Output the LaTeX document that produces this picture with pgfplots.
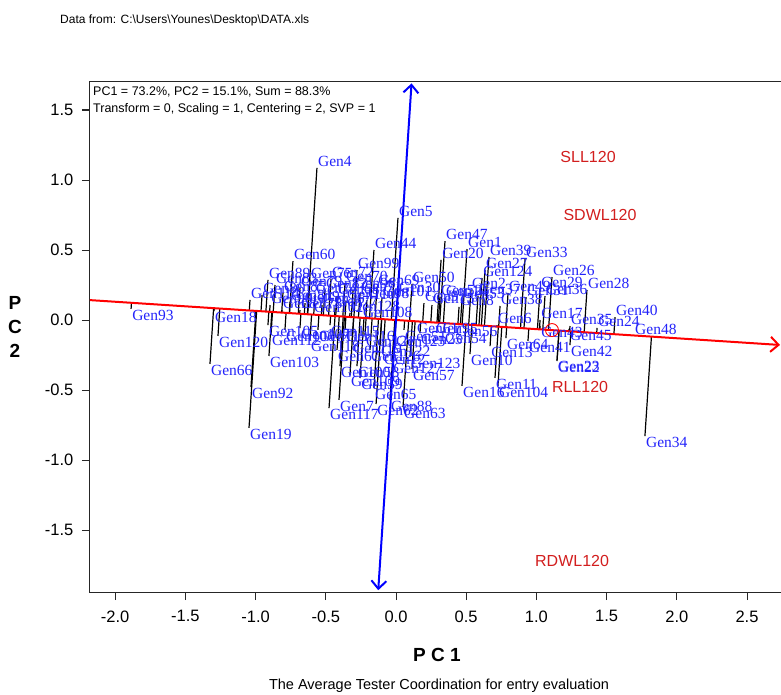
\documentclass[border=0pt]{standalone}
\usepackage{fontspec}
\setmainfont{Liberation Sans}
\newfontfamily\genfont{Liberation Serif}
\usepackage{pgfplots}
\usepackage{pgfplotstable}
\pgfplotsset{compat=1.18}
\usetikzlibrary{arrows.meta}
\definecolor{genblue}{RGB}{35,35,250}
\definecolor{envred}{RGB}{210,30,30}

% genotypes above the ATC abscissa (label sits above the point)
\pgfplotstableread{
x y label
-0.563 1.086 Gen4
0.014 0.729 Gen5
-0.157 0.500 Gen44
-0.734 0.421 Gen60
0.349 0.564 Gen47
0.321 0.429 Gen20
0.506 0.507 Gen1
0.662 0.450 Gen39
0.919 0.436 Gen33
0.634 0.357 Gen27
0.613 0.300 Gen124
1.111 0.307 Gen26
1.026 0.221 Gen29
1.360 0.214 Gen28
1.560 0.021 Gen40
1.026 0.000 Gen17
1.239 -0.043 Gen35
1.432 -0.057 Gen24
1.695 -0.110 Gen48
0.741 0.100 Gen38
0.584 0.171 Gen37
0.926 0.164 Gen31
1.061 0.171 Gen36
0.534 0.214 Gen2
0.014 0.186 Gen30
0.114 0.257 Gen50
-0.135 0.236 Gen69
-0.278 0.357 Gen99
-0.463 0.293 Gen72
-0.912 0.286 Gen89
-1.040 0.143 Gen114
-0.356 0.136 Gen110
-0.328 0.050 Gen128
0.719 -0.036 Gen6
0.256 0.107 Gen15
0.349 0.157 Gen14
0.449 0.093 Gen8
0.798 0.193 Gen49
-0.862 0.250 Gen83
-0.805 0.193 Gen85
-0.954 0.179 Gen86
-0.684 0.229 Gen79
-0.613 0.286 Gen75
-0.577 0.179 Gen74
-0.755 0.129 Gen81
-0.506 0.214 Gen82
-0.363 0.264 Gen70
-0.256 0.193 Gen71
-0.420 0.171 Gen68
-0.897 0.107 Gen90
-0.648 0.121 Gen91
-0.527 0.107 Gen76
-0.434 0.086 Gen77
-0.684 0.071 Gen78
-0.812 0.071 Gen87
-0.306 0.214 Gen96
-0.207 0.143 Gen98
-0.100 0.157 Gen101
-0.591 0.043 Gen102
0.199 0.121 Gen9
0.313 0.164 Gen52
0.470 0.143 Gen53
-0.242 0.010 Gen108
}\genup

% genotypes below the ATC abscissa (label hangs below the point)
\pgfplotstableread{
x y label
-1.887 0.079 Gen93
-1.296 0.064 Gen18
-1.268 -0.114 Gen120
-1.325 -0.314 Gen66
-1.033 -0.479 Gen92
-1.047 -0.771 Gen19
-0.905 -0.257 Gen103
-0.890 -0.100 Gen112
-0.420 -0.214 Gen67
-0.477 -0.629 Gen117
-0.406 -0.571 Gen7
-0.157 -0.486 Gen65
-0.043 -0.571 Gen88
0.050 -0.621 Gen63
-0.142 -0.600 Gen62
-0.093 -0.236 Gen12
0.100 -0.264 Gen123
0.114 -0.350 Gen57
-0.278 -0.329 Gen58
-0.256 -0.414 Gen59
0.527 -0.243 Gen10
0.670 -0.186 Gen13
0.705 -0.414 Gen11
0.726 -0.471 Gen104
0.470 -0.471 Gen16
0.342 -0.086 Gen54
0.171 -0.093 Gen25
0.142 -0.014 Gen61
0.783 -0.129 Gen64
0.940 -0.150 Gen41
1.239 -0.179 Gen42
1.232 -0.064 Gen45
1.147 -0.286 Gen23
1.147 -0.293 Gen22
1.026 -0.043 Gen43
1.773 -0.829 Gen34
-0.912 -0.036 Gen105
-0.791 -0.071 Gen106
-0.684 -0.057 Gen107
-0.556 -0.071 Gen113
-0.470 -0.036 Gen115
-0.363 -0.071 Gen116
-0.613 -0.143 Gen118
-0.313 -0.157 Gen119
-0.221 -0.107 Gen121
-0.114 -0.179 Gen122
-0.007 -0.107 Gen125
-0.185 -0.214 Gen126
-0.028 -0.300 Gen127
-0.399 -0.329 Gen100
-0.328 -0.393 Gen109
0.278 -0.014 Gen95
0.420 -0.036 Gen56
0.057 -0.071 Gen51
}\gendn

\pgfplotstableread{
x y label
1.368 1.164 SLL120
1.453 0.750 SDWL120
1.311 -0.479 RLL120
1.254 -1.721 RDWL120
}\envs

\begin{document}
\begin{tikzpicture}
\begin{axis}[
    at={(396pt,-320pt)}, anchor=origin,
    x=140.4pt, y=140pt,
    xmin=-2.18, xmax=2.80,
    ymin=-1.943, ymax=1.70,
    clip=false,
    axis line style={line width=1pt, black!85},
    tick style={line width=1pt, black!85},
    tick pos=left,
    tick align=outside,
    major tick length=8pt,
    xtick={-2,-1.5,...,2.5},
    ytick={-1.5,-1,...,1.5},
    /pgf/number format/.cd, fixed, fixed zerofill, precision=1, assume math mode=true,
    /pgfplots/.cd,
    ticklabel style={font=\fontsize{16.5}{18}\selectfont},
    xticklabel style={yshift=-7pt},
    yticklabel style={xshift=-5pt},
]
% projections onto the ATC abscissa
\addplot[black, line width=1.2pt,
    quiver={u=-0.004235*\thisrow{x}-0.064922*\thisrow{y},
            v=-0.064922*\thisrow{x}-0.995767*\thisrow{y}}]
    table[x=x, y=y] {\genup};
\addplot[black, line width=1.2pt,
    quiver={u=-0.004235*\thisrow{x}-0.064922*\thisrow{y},
            v=-0.064922*\thisrow{x}-0.995767*\thisrow{y}}]
    table[x=x, y=y] {\gendn};
% genotype names
\addplot[draw=none, nodes near coords, point meta=explicit symbolic,
    every node near coord/.append style={anchor=south west, inner sep=1pt,
      text=genblue, font=\genfont\fontsize{15.5}{16}\selectfont}]
    table[x=x, y=y, meta=label] {\genup};
\addplot[draw=none, nodes near coords, point meta=explicit symbolic,
    every node near coord/.append style={anchor=north west, inner sep=1pt,
      text=genblue, font=\genfont\fontsize{15.5}{16}\selectfont}]
    table[x=x, y=y, meta=label] {\gendn};
% environment names
\addplot[draw=none, nodes near coords, point meta=explicit symbolic,
    every node near coord/.append style={anchor=center, inner sep=0pt,
      text=envred, font=\fontsize{16}{18}\selectfont}]
    table[x=x, y=y, meta=label] {\envs};
% ATC abscissa and ordinate
\addplot[red, line width=2pt, -{Straight Barb[length=8pt,width=15pt]}]
    coordinates {(-2.18,0.1421) (2.735,-0.1783)};
\addplot[blue, line width=2pt, {Straight Barb[length=8pt,width=15pt]}-{Straight Barb[length=8pt,width=15pt]}]
    coordinates {(-0.1265,-1.93) (0.1106,1.69)};
% average environment
\addplot[red, only marks, mark=o, mark size=6.5pt, mark options={line width=0.9pt}]
    coordinates {(1.111,-0.072)};
\end{axis}
\node[anchor=north west, align=left, inner sep=0pt,
  font=\fontsize{12.5}{17}\selectfont] at (93pt,-87pt)
  {PC1 = 73.2\%, PC2 = 15.1\%, Sum = 88.3\%\\Transform = 0, Scaling = 1, Centering = 2, SVP = 1};
\node[anchor=west, inner sep=0pt, font=\fontsize{12}{14}\selectfont] at (60pt,-20pt)
  {Data from: C:\textbackslash Users\textbackslash Younes\textbackslash Desktop\textbackslash DATA.xls};
\node[align=center, font=\bfseries\fontsize{19}{24}\selectfont] at (15pt,-327pt) {P\\C\\2};
\node[font=\bfseries\fontsize{19}{22}\selectfont] at (437pt,-655pt) {P C 1};
\node[font=\fontsize{14.5}{16}\selectfont] at (439pt,-686pt)
  {The Average Tester Coordination for entry evaluation};
\pgfresetboundingbox
\useasboundingbox (0pt,0pt) rectangle (781pt,-695pt);
\end{tikzpicture}
\end{document}
